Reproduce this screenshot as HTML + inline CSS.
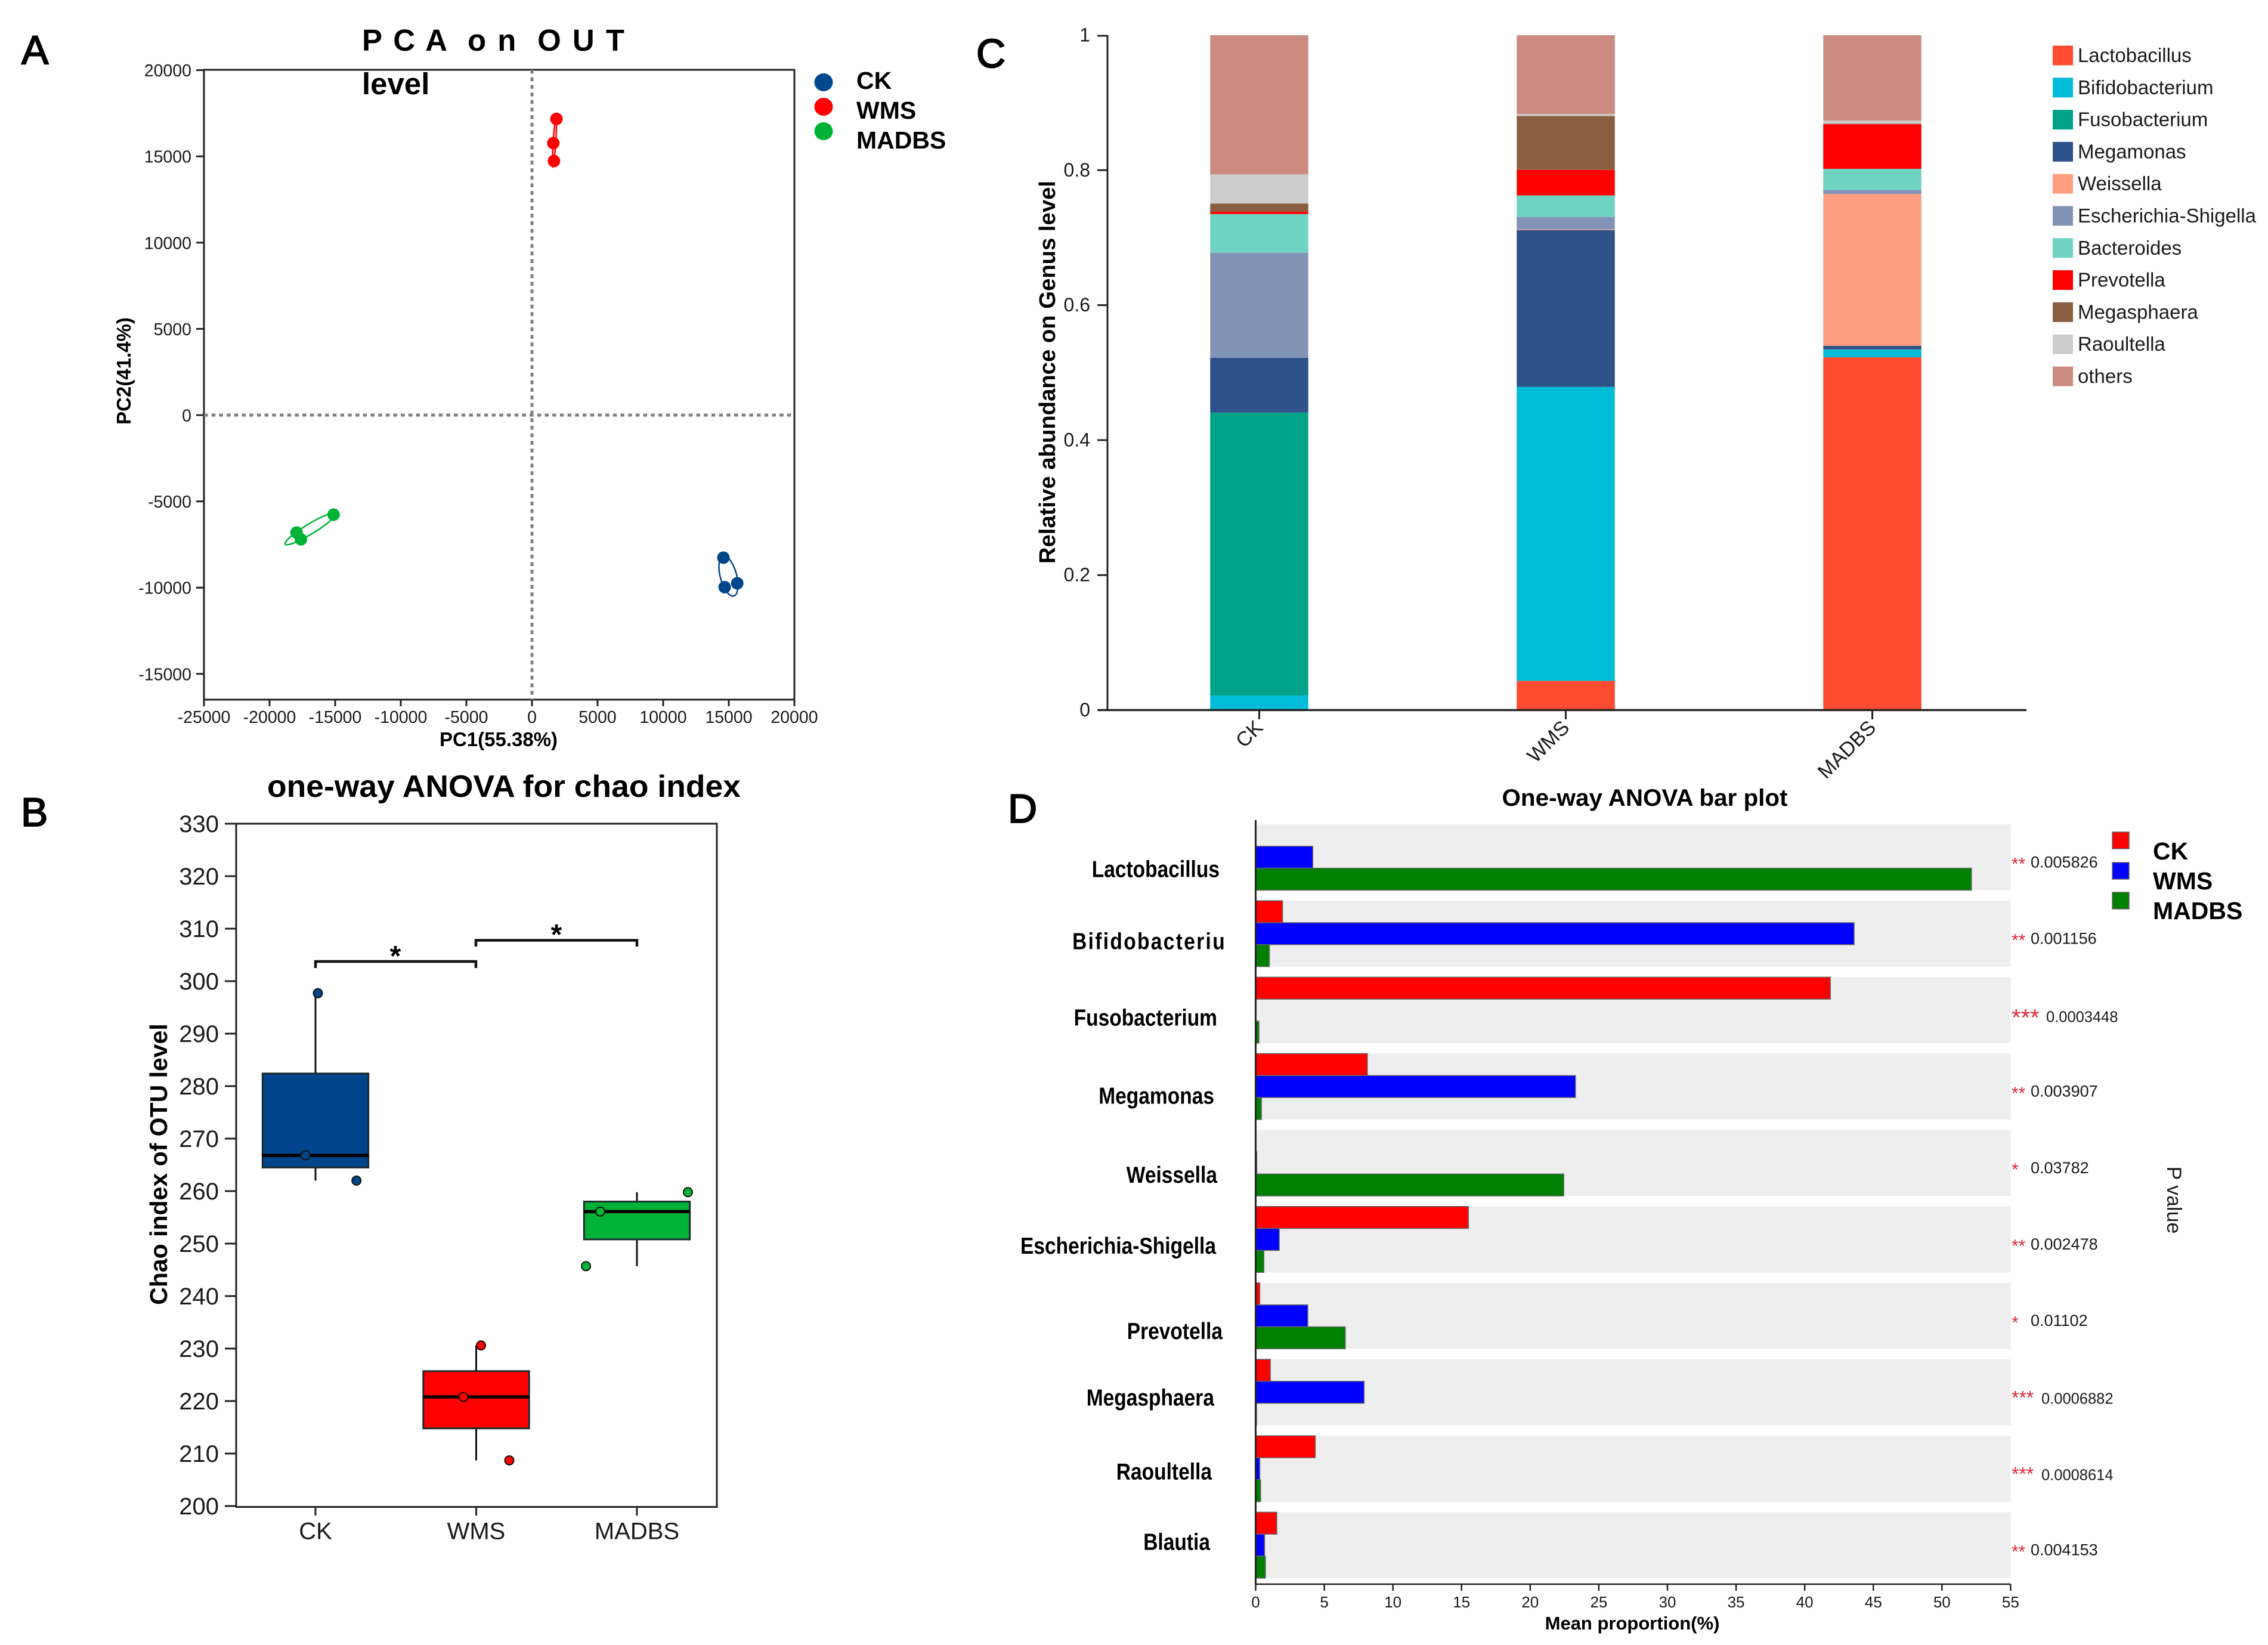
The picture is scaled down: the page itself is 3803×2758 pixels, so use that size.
<!DOCTYPE html>
<html lang="en">
<head>
<meta charset="utf-8">
<title>Microbiome figure: PCA, chao index, genus abundance, ANOVA</title>
<style>
html,body{margin:0;padding:0;background:#fff;}
svg{display:block;}
text{font-family:"Liberation Sans",Arial,sans-serif;fill:#1a1a1a;white-space:pre;}
.b{font-weight:bold;fill:#000;}
.letter{font-size:68px;fill:#000;stroke:#000;stroke-width:2px;}
</style>
</head>
<body>
<svg id="fig" xmlns="http://www.w3.org/2000/svg" width="3803" height="2758" viewBox="0 0 3803 2758">
  <rect x="0" y="0" width="3803" height="2758" fill="#fff"/>

  <!-- Panel letters -->
  <text class="letter" x="36" y="107">A</text>
  <text class="letter" x="35" y="1385">B</text>
  <text class="letter" x="1637" y="113">C</text>
  <text class="letter" x="1690" y="1379">D</text>

  <!-- Panel A static -->
  <g id="panelA">
    <rect x="342" y="117" width="990" height="1056" fill="none" stroke="#222" stroke-width="3"/>
    <line x1="342" x2="1332" y1="696" y2="696" stroke="#808080" stroke-width="5" stroke-dasharray="6.5 6.2"/>
    <line x1="892" x2="892" y1="117" y2="1173" stroke="#808080" stroke-width="5" stroke-dasharray="6.5 6.2"/>
    <text class="b" x="607" y="85" font-size="51" textLength="440" lengthAdjust="spacing">P C A  o n  O U T</text>
    <text class="b" x="607" y="158" font-size="51">level</text>
    <text class="b" x="836" y="1251" font-size="33" text-anchor="middle">PC1(55.38%)</text>
    <text class="b" transform="translate(219 622) rotate(-90)" font-size="33" text-anchor="middle">PC2(41.4%)</text>
    <ellipse cx="1381" cy="138" rx="15.5" ry="15" fill="#00498d"/>
    <ellipse cx="1381" cy="179" rx="15.5" ry="15" fill="#ff0000"/>
    <ellipse cx="1381" cy="220" rx="15.5" ry="15" fill="#00b336"/>
    <text class="b" x="1436" y="149" font-size="41">CK</text>
    <text class="b" x="1436" y="199" font-size="41">WMS</text>
    <text class="b" x="1436" y="249" font-size="41">MADBS</text>
  </g>

  <!-- Panel B static -->
  <g id="panelB">
    <rect x="396" y="1381" width="806" height="1145.5" fill="none" stroke="#222" stroke-width="3"/>
    <text class="b" x="845" y="1336" font-size="52" text-anchor="middle" textLength="794" lengthAdjust="spacingAndGlyphs">one-way ANOVA for chao index</text>
    <text class="b" transform="translate(280 1952) rotate(-90)" font-size="41" text-anchor="middle">Chao index of OTU level</text>
    <path d="M529 1623V1612H798V1623" fill="none" stroke="#111" stroke-width="4.5"/>
    <path d="M798 1587V1576.5H1068V1587" fill="none" stroke="#111" stroke-width="4.5"/>
    <text class="b" x="663" y="1619" font-size="48" text-anchor="middle">*</text>
    <text class="b" x="933" y="1583" font-size="48" text-anchor="middle">*</text>
  </g>

  <!-- Panel C static -->
  <g id="panelC">
    <text class="b" transform="translate(1769 624) rotate(-90)" font-size="38" text-anchor="middle" textLength="642" lengthAdjust="spacingAndGlyphs">Relative abundance on Genus level</text>
  </g>

  <!-- Panel D static -->
  <g id="panelD">
    <text class="b" x="2758" y="1351" font-size="40" text-anchor="middle" textLength="479" lengthAdjust="spacingAndGlyphs">One-way ANOVA bar plot</text>
    <text class="b" x="2737" y="2732" font-size="31" text-anchor="middle">Mean proportion(%)</text>
    <text transform="translate(3634 2012) rotate(90)" font-size="34" text-anchor="middle">P value</text>
    <rect x="3542" y="1395" width="28" height="28" fill="#ff0000" stroke="#666" stroke-width="1.5"/>
    <rect x="3542" y="1446" width="28" height="28" fill="#0000ff" stroke="#666" stroke-width="1.5"/>
    <rect x="3542" y="1496" width="28" height="28" fill="#007f00" stroke="#666" stroke-width="1.5"/>
    <text class="b" x="3610" y="1441" font-size="41">CK</text>
    <text class="b" x="3610" y="1491" font-size="41">WMS</text>
    <text class="b" x="3610" y="1541" font-size="41">MADBS</text>
  </g>
</svg>

<script>
/* ---------- Panel A data: PCA scores ---------- */
const pcaGroups = ['CK', 'WMS', 'MADBS'];
const pcaCkX = [14593, 14689, 15646];
const pcaCkY = [-8263, -9972, -9748];
const pcaWmsX = [1866, 1627, 1675];
const pcaWmsY = [17171, 15770, 14734];
const pcaMadbsX = [-15120, -17943, -17608];
const pcaMadbsY = [-5770, -6807, -7199];
const pcaXTicks = [-25000, -20000, -15000, -10000, -5000, 0, 5000, 10000, 15000, 20000];
const pcaYTicks = [-15000, -10000, -5000, 0, 5000, 10000, 15000, 20000];

/* ---------- Panel B data: chao index ---------- */
const chaoGroups = ['CK', 'WMS', 'MADBS'];
const chaoQ1 = [264.5, 214.8, 250.8];
const chaoQ3 = [282.4, 225.7, 258.0];
const chaoMedian = [266.8, 220.8, 256.1];
const chaoWhiskerLow = [262.0, 208.7, 245.7];
const chaoWhiskerHigh = [297.7, 230.6, 259.8];
const chaoPointsCk = [297.7, 266.8, 262.0];
const chaoPointsWms = [230.6, 220.8, 208.7];
const chaoPointsMadbs = [259.8, 256.1, 245.7];
const chaoJitterCk = [0.015, -0.062, 0.255];
const chaoJitterWms = [0.03, -0.08, 0.206];
const chaoJitterMadbs = [0.317, -0.228, -0.317];
const chaoYTicks = [200, 210, 220, 230, 240, 250, 260, 270, 280, 290, 300, 310, 320, 330];

/* ---------- Panel C data: genus stacks ---------- */
const stackSamples = ['CK', 'WMS', 'MADBS'];
const stackGenera = ['Lactobacillus', 'Bifidobacterium', 'Fusobacterium', 'Megamonas', 'Weissella', 'Escherichia-Shigella', 'Bacteroides', 'Prevotella', 'Megasphaera', 'Raoultella', 'others'];
const stackCk = [0.001, 0.0206, 0.4192, 0.0812, 0.0, 0.1556, 0.0574, 0.0037, 0.0119, 0.0431, 0.2063];
const stackWms = [0.0432, 0.4356, 0.0002, 0.2321, 0.001, 0.0185, 0.032, 0.0379, 0.0797, 0.003, 0.1168];
const stackMadbs = [0.5227, 0.0112, 0.0005, 0.0054, 0.2249, 0.006, 0.0313, 0.0662, 0.0005, 0.0047, 0.1266];
const stackYTicks = ['0', '0.2', '0.4', '0.6', '0.8', '1'];

/* ---------- Panel D data: ANOVA mean proportions ---------- */
const anovaGenera = ['Lactobacillus', 'Bifidobacteriu', 'Fusobacterium', 'Megamonas', 'Weissella', 'Escherichia-Shigella', 'Prevotella', 'Megasphaera', 'Raoultella', 'Blautia'];
const anovaCk = [0.03, 1.96, 41.87, 8.14, 0.03, 15.5, 0.3, 1.07, 4.34, 1.54];
const anovaWms = [4.16, 43.6, 0.02, 23.3, 0.08, 1.72, 3.8, 7.9, 0.3, 0.65];
const anovaMadbs = [52.15, 1.0, 0.24, 0.42, 22.45, 0.6, 6.53, 0.06, 0.36, 0.71];
const anovaPValues = ['0.005826', '0.001156', '0.0003448', '0.003907', '0.03782', '0.002478', '0.01102', '0.0006882', '0.0008614', '0.004153'];
const anovaXTicks = [0, 5, 10, 15, 20, 25, 30, 35, 40, 45, 50, 55];

/* ---------- Styling (not data) ---------- */
const groupColors = ['#00458c', '#ff0000', '#00b336'];
const genusColors = ['#ff4b2f', '#00bcd8', '#00a387', '#2c5289', '#ff9d81', '#8393b6', '#6fd3c1', '#ff0000', '#8a5f41', '#cccccc', '#cb8b80'];
const anovaColors = ['#ff0000', '#0000ff', '#007f00'];
const anovaLabelNudgeX = [5, 16, 1, -4, 1, -1, 10, -4, -8, -11];
const anovaLabelNudgeY = [33, 26, 26, 29, 33, 24, 39, 22, 18, 8];
const anovaLabelSpacing = [0, 2.7, 0, 0, 0, 0, 0, 0, 0, 0];
const anovaPNudgeX = [0, 0, 26, 0, 0, 0, 0, 18, 18, 0];
const anovaPNudgeY = [0, 0, 3, 0, 0, 0, 0, 2, 2, 0];

const SVGNS = 'http://www.w3.org/2000/svg';
function mk(parent, tag, attrs, content) {
  const el = document.createElementNS(SVGNS, tag);
  for (const k in attrs) el.setAttribute(k, attrs[k]);
  if (content !== undefined) el.textContent = content;
  parent.appendChild(el);
  return el;
}

/* ---------- Panel A ---------- */
(function () {
  const g = document.getElementById('panelA');
  const xA = v => 342 + (v + 25000) * 0.022;
  const yA = v => 696 - v * 0.02892;
  pcaXTicks.forEach(v => {
    const t = mk(g, 'line', {x1: xA(v), x2: xA(v), y1: 1173, y2: 1184, stroke: '#222', 'stroke-width': 3});
    
    
    const l = mk(g, 'text', {x: xA(v), y: 1212, 'font-size': 28.5, 'text-anchor': 'middle'}, String(v));
    
    
  });
  pcaYTicks.forEach(v => {
    const t = mk(g, 'line', {x1: 329, x2: 342, y1: yA(v), y2: yA(v), stroke: '#222', 'stroke-width': 3});
    
    
    const l = mk(g, 'text', {x: 321, y: yA(v) + 10.5, 'font-size': 28.5, 'text-anchor': 'end'}, String(v));
    
    
  });
  const xs = [pcaCkX, pcaWmsX, pcaMadbsX];
  const ys = [pcaCkY, pcaWmsY, pcaMadbsY];
  pcaGroups.forEach((name, i) => {
    const px = xs[i].map(xA), py = ys[i].map(yA), n = px.length;
    const mx = px.reduce((a, b) => a + b, 0) / n, my = py.reduce((a, b) => a + b, 0) / n;
    let sxx = 0, syy = 0, sxy = 0;
    px.forEach((x, j) => {
      sxx += (x - mx) * (x - mx);
      syy += (py[j] - my) * (py[j] - my);
      sxy += (x - mx) * (py[j] - my);
    });
    sxx /= n - 1; syy /= n - 1; sxy /= n - 1;
    const tr = sxx + syy, disc = Math.sqrt(Math.max(0, (sxx - syy) * (sxx - syy) + 4 * sxy * sxy));
    const angle = 0.5 * Math.atan2(2 * sxy, sxx - syy) * 180 / Math.PI;
    const k = 1.25;
    const e = mk(g, 'ellipse', {
      cx: mx, cy: my,
      rx: k * Math.sqrt((tr + disc) / 2), ry: k * Math.sqrt(Math.max(1, (tr - disc) / 2)),
      transform: 'rotate(' + angle + ' ' + mx + ' ' + my + ')',
      fill: 'none', stroke: groupColors[i], 'stroke-width': 2.5
    });
    
    
    px.forEach((x, j) => {
      const c = mk(g, 'circle', {cx: x, cy: py[j], r: 10.5, fill: groupColors[i]});
      
      
    });
  });
})();

/* ---------- Panel B ---------- */
(function () {
  const g = document.getElementById('panelB');
  const yB = v => 2525 - (v - 200) * 8.8;
  const xB = i => 529 + i * 269.5;
  const boxHalf = 88.7;
  chaoYTicks.forEach(v => {
    const t = mk(g, 'line', {x1: 377, x2: 396, y1: yB(v), y2: yB(v), stroke: '#222', 'stroke-width': 3});
    
    
    const l = mk(g, 'text', {x: 367, y: yB(v) + 14, 'font-size': 40, 'text-anchor': 'end'}, String(v));
    
    
  });
  const pts = [chaoPointsCk, chaoPointsWms, chaoPointsMadbs];
  const jit = [chaoJitterCk, chaoJitterWms, chaoJitterMadbs];
  chaoGroups.forEach((name, i) => {
    const key = name.toLowerCase(), cx = xB(i);
    const t = mk(g, 'line', {x1: cx, x2: cx, y1: 2526.5, y2: 2541, stroke: '#222', 'stroke-width': 3});
    
    
    const l = mk(g, 'text', {x: cx, y: 2580.5, 'font-size': 40, 'text-anchor': 'middle'}, name);
    
    
    const w = mk(g, 'line', {x1: cx, x2: cx, y1: yB(chaoWhiskerHigh[i]), y2: yB(chaoWhiskerLow[i]), stroke: '#111', 'stroke-width': 3});
    
    
    const b = mk(g, 'rect', {x: cx - boxHalf, y: yB(chaoQ3[i]), width: boxHalf * 2, height: yB(chaoQ1[i]) - yB(chaoQ3[i]), fill: groupColors[i], stroke: '#1c2b30', 'stroke-width': 3});
    
    
    const m = mk(g, 'line', {x1: cx - boxHalf, x2: cx + boxHalf, y1: yB(chaoMedian[i]), y2: yB(chaoMedian[i]), stroke: '#000', 'stroke-width': 5.5});
    
    
    pts[i].forEach((v, j) => {
      const c = mk(g, 'circle', {cx: cx + jit[i][j] * 269.5, cy: yB(v), r: 7.5, fill: groupColors[i], stroke: '#111', 'stroke-width': 2});
      
      
    });
  });
})();

/* ---------- Panel C ---------- */
(function () {
  const g = document.getElementById('panelC');
  const yC = v => 1190.5 - v * 1131.5;
  const xC = i => 2111.5 + i * 514;
  const barW = 164.5;
  const stacks = [stackCk, stackWms, stackMadbs];
  stackSamples.forEach((name, i) => {
    let acc = 0;
    stacks[i].forEach((v, j) => {
      const r = mk(g, 'rect', {x: xC(i) - barW / 2, y: yC(acc + v), width: barW, height: yC(acc) - yC(acc + v), fill: genusColors[j]});
      
      
      acc += v;
    });
  });
  const ax = mk(g, 'line', {x1: 1840, x2: 3398, y1: 1190.5, y2: 1190.5, stroke: '#222', 'stroke-width': 3.5});
  
  
  const ay = mk(g, 'line', {x1: 1857, x2: 1857, y1: 59, y2: 1190.5, stroke: '#222', 'stroke-width': 3});
  
  
  stackYTicks.forEach(lbl => {
    const v = Number(lbl);
    const t = mk(g, 'line', {x1: 1840, x2: 1857, y1: yC(v) + (v === 1 ? 1 : 0), y2: yC(v) + (v === 1 ? 1 : 0), stroke: '#222', 'stroke-width': 3});
    
    
    const l = mk(g, 'text', {x: 1828, y: yC(v) + 10.5, 'font-size': 32, 'text-anchor': 'end'}, lbl);
    
    
  });
  stackSamples.forEach((name, i) => {
    const t = mk(g, 'line', {x1: xC(i), x2: xC(i), y1: 1190.5, y2: 1206, stroke: '#222', 'stroke-width': 3});
    
    
    const l = mk(g, 'text', {transform: 'translate(' + (xC(i) + 8) + ' 1222) rotate(-45)', 'font-size': 34, 'text-anchor': 'end'}, name);
    
    
  });
  stackGenera.forEach((name, j) => {
    const cy = 93 + j * 53.8;
    const s = mk(g, 'rect', {x: 3442, y: cy - 16.5, width: 34, height: 33, fill: genusColors[j]});
    
    
    const l = mk(g, 'text', {x: 3484, y: cy + 11, 'font-size': 33}, name);
    
    
  });
})();

/* ---------- Panel D ---------- */
(function () {
  const g = document.getElementById('panelD');
  const xD = v => 2105.5 + v * 23.016;
  const rowTop = i => 1382 + i * 128.15;
  const rowH = 110.5;
  const barH = rowH / 3;
  const series = [anovaCk, anovaWms, anovaMadbs];
  const seriesNames = ['ck', 'wms', 'madbs'];
  anovaGenera.forEach((name, i) => {
    const bg = mk(g, 'rect', {x: 2105.5, y: rowTop(i), width: 1266, height: rowH, fill: '#eeeeee'});
    
    
    series.forEach((arr, s) => {
      const r = mk(g, 'rect', {x: xD(0), y: rowTop(i) + s * barH, width: xD(arr[i]) - xD(0), height: barH, fill: anovaColors[s], stroke: '#666', 'stroke-width': 1.5});
      
      
    });
    const cy = rowTop(i) + rowH / 2;
    const l = mk(g, 'text', {transform: 'translate(' + (2040 + anovaLabelNudgeX[i]) + ' ' + (cy + anovaLabelNudgeY[i]) + ') scale(0.86 1)', 'font-size': 39, 'text-anchor': 'end', 'font-weight': 'bold', 'letter-spacing': anovaLabelSpacing[i], style: 'fill:#000'}, name);
    
    
    const p = Number(anovaPValues[i]);
    const stars = p < 0.001 ? '***' : (p < 0.01 ? '**' : '*');
    const big = i === 2;
    const starSize = big ? 40 : (stars === '***' ? 32 : 30);
    const sc = cy + anovaPNudgeY[i] + (stars === '***' ? 0 : 4);
    const st = mk(g, 'text', {x: 3373, y: sc + starSize * 0.57, 'font-size': starSize, style: 'fill:#dc2a35'}, stars);
    
    
    const pv = mk(g, 'text', {x: 3405 + anovaPNudgeX[i], y: cy + 17 + anovaPNudgeY[i], 'font-size': anovaPNudgeX[i] ? 25.5 : 27}, anovaPValues[i]);
    
    
  });
  const ay = mk(g, 'line', {x1: 2105.5, x2: 2105.5, y1: 1375, y2: 2656, stroke: '#222', 'stroke-width': 3});
  
  
  const ax = mk(g, 'line', {x1: 2105.5, x2: 3371.5, y1: 2656, y2: 2656, stroke: '#222', 'stroke-width': 2.5});
  
  
  anovaXTicks.forEach(v => {
    const t = mk(g, 'line', {x1: xD(v), x2: xD(v), y1: 2656, y2: 2667, stroke: '#222', 'stroke-width': 2.5});
    
    
    const l = mk(g, 'text', {x: xD(v), y: 2695, 'font-size': 26, 'text-anchor': 'middle'}, String(v));
    
    
  });
})();
</script>
</body>
</html>
